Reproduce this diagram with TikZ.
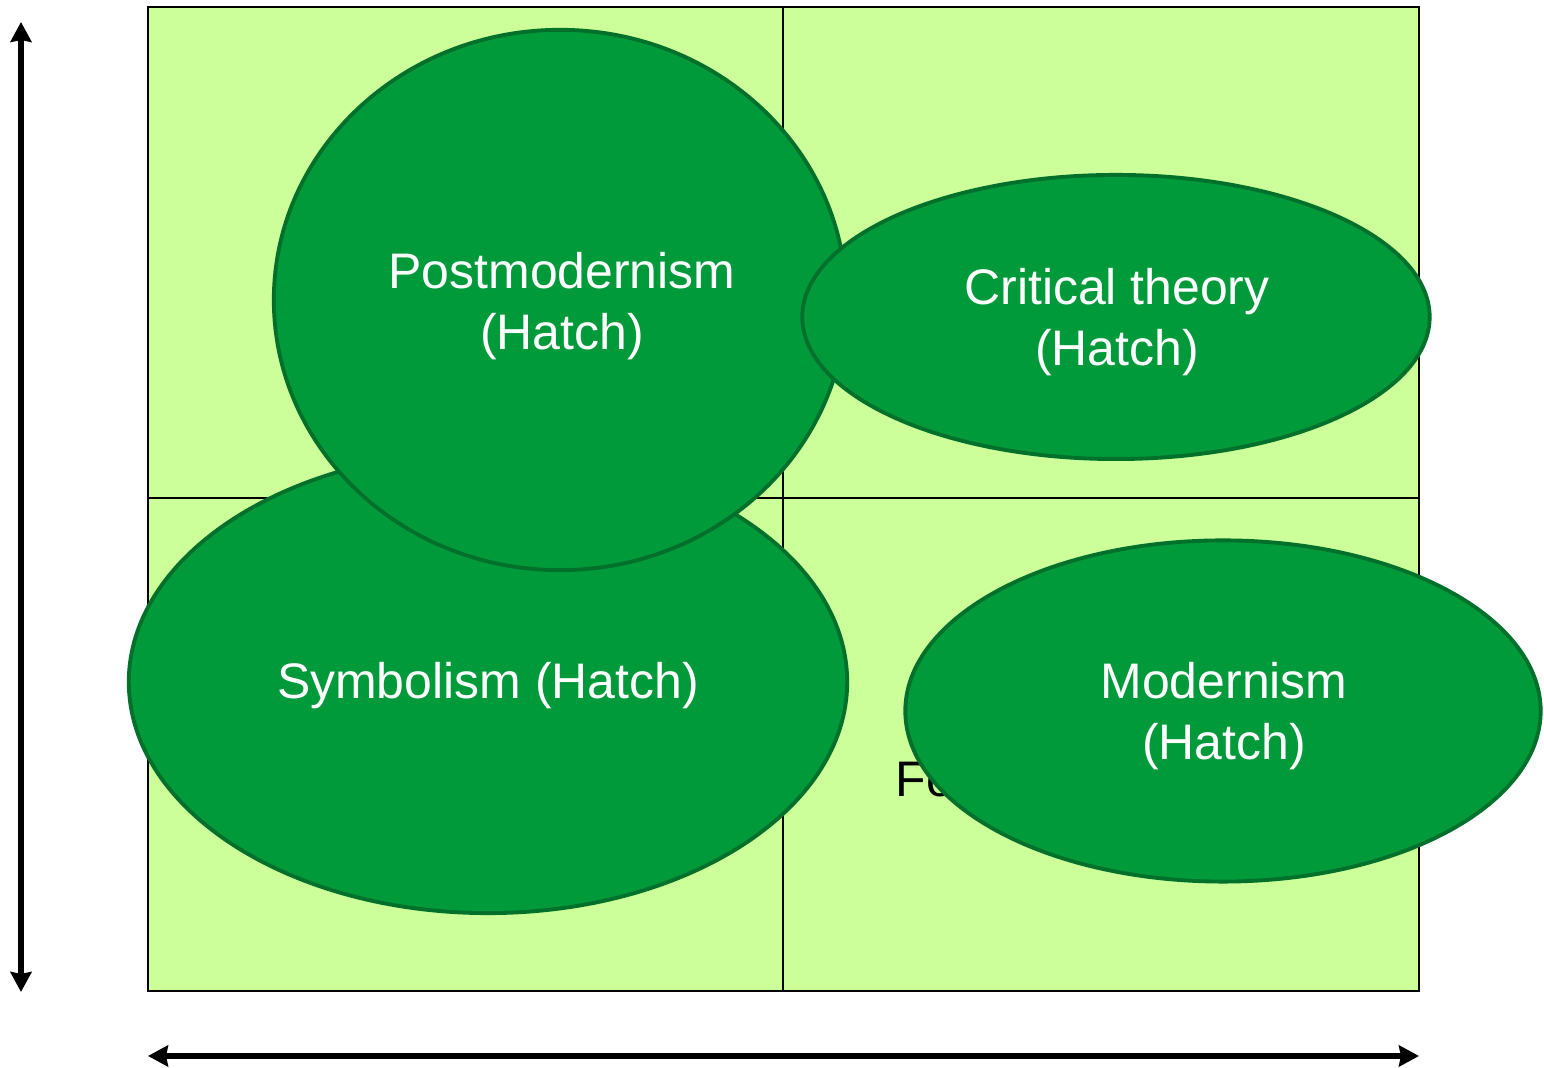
\documentclass[tikz,border=0pt]{standalone}
\usepackage{fontspec}
\setmainfont{Liberation Sans}
\usetikzlibrary{shapes.geometric,arrows.meta}
\definecolor{cellfill}{HTML}{CCFF99}
\definecolor{blobfill}{HTML}{009A3A}
\definecolor{blobline}{HTML}{00702B}
\tikzset{
  cell/.style={draw=black, line width=0.6pt, fill=cellfill},
  blob/.style={ellipse, draw=blobline, line width=1.1pt, fill=blobfill, inner sep=0pt},
  blobtext/.style={text=white, align=center, inner sep=0pt, font=\fontsize{14.2pt}{17.4pt}\selectfont},
  axis/.style={line width=1.65pt, {Stealth[length=0.2cm,width=0.21cm,inset=0.02cm]}-{Stealth[length=0.2cm,width=0.21cm,inset=0.02cm]}}
}
\begin{document}
\begin{tikzpicture}[x=0.01cm,y=-0.01cm]
\useasboundingbox (0,0) rectangle (1544,1068);
% quadrants
\path[cell] (148,7) rectangle (783,498);
\path[cell] (783,7) rectangle (1419,498);
\path[cell] (148,498) rectangle (783,991);
\path[cell] (783,498) rectangle (1419,991);
% partially hidden label
\node[anchor=west, inner sep=0pt, font=\fontsize{14.2pt}{17.4pt}\selectfont] (form) at (895,779) {Formalism};
% ellipses
\node[blob, minimum width=7.18cm, minimum height=4.62cm] (sym) at (488,682) {};
\node[blobtext] (symt) at (488,686) {Symbolism (Hatch)};
\node[blob, minimum width=5.72cm, minimum height=5.40cm] (post) at (560,300) {};
\node[blobtext] (postt) at (562,306) {Postmodernism\\(Hatch)};
\node[blob, minimum width=6.27cm, minimum height=2.84cm] (crit) at (1116,317) {};
\node[blobtext] (critt) at (1117,322) {Critical theory\\(Hatch)};
\node[blob, minimum width=6.35cm, minimum height=3.41cm] (mod) at (1223,711) {};
\node[blobtext] (modt) at (1224,716) {Modernism\\(Hatch)};
% axes
\coordinate (vt) at (21,22);
\coordinate (vb) at (21,992);
\coordinate (hl) at (148,1056);
\coordinate (hr) at (1419,1056);
\draw[axis] (vt) -- (vb);
\draw[axis] (hl) -- (hr);
\end{tikzpicture}
\end{document}
